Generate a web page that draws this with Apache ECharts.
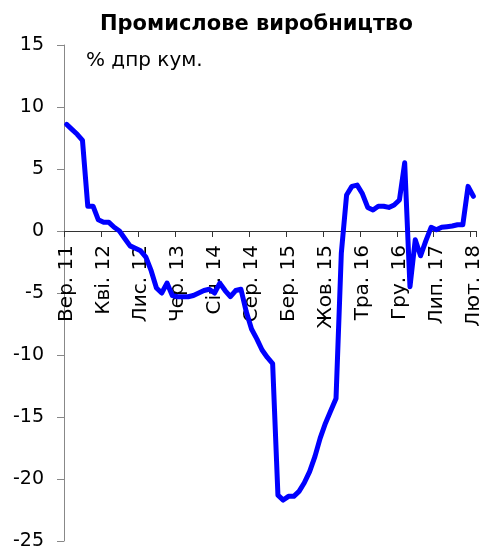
<!DOCTYPE html>
<html>
<head>
<meta charset="utf-8">
<script src="https://cdn.jsdelivr.net/npm/echarts@6/dist/echarts.min.js"></script>
<style>
html,body{margin:0;padding:0;background:#fff;}
#chart{width:497px;height:548px;}
</style>
</head>
<body>
<div id="chart"></div>
<script>
var titleText = "Промислове виробництво";
var unitText = "% дпр кум.";
var monthNames = ["Січ.","Лют.","Бер.","Кві.","Тра.","Чер.","Лип.","Сер.","Вер.","Жов.","Лис.","Гру."];
var startYear = 2011, startMonth = 8; // Sep 2011
var values = [
  8.6, 8.2, 7.8, 7.3, 2.0, 2.0, 0.9, 0.7, 0.7, 0.3,
  0.0, -0.6, -1.2, -1.4, -1.6, -2.1, -3.2, -4.6, -5.0, -4.2,
  -5.2, -5.3, -5.3, -5.3, -5.2, -5.0, -4.8, -4.7, -5.0, -4.2,
  -4.8, -5.3, -4.8, -4.7, -6.5, -7.9, -8.7, -9.6, -10.2, -10.7,
  -21.3, -21.7, -21.4, -21.4, -21.0, -20.3, -19.4, -18.2, -16.7, -15.5,
  -14.5, -13.5, -1.8, 2.9, 3.6, 3.7, 3.0, 1.9, 1.7, 2.0,
  2.0, 1.9, 2.1, 2.5, 5.5, -4.5, -0.7, -2.0, -0.8, 0.3,
  0.1, 0.3, 0.35, 0.4, 0.5, 0.5, 3.6, 2.8
];
var yTicks = [-25, -20, -15, -10, -5, 0, 5, 10, 15];

var categories = values.map(function(v, i){
  var m = startMonth + i;
  var y = startYear + Math.floor(m / 12);
  return monthNames[m % 12] + " " + String(y % 100).padStart(2, "0");
});

var gridTop = 45, gridBottom = 7, chartH = 548;
var yMin = yTicks[0], yMax = yTicks[yTicks.length-1];
var plotH = chartH - gridTop - gridBottom;
var zeroOffset = -Math.round(plotH * (0 - yMin) / (yMax - yMin));

var chart = echarts.init(document.getElementById('chart'), null, {renderer:'canvas'});
var FONT = "DejaVu Sans";
chart.setOption({
  animation: false,
  backgroundColor: '#fff',
  title: [{
    text: titleText,
    left: 95, top: 9,
    textStyle: {fontFamily: FONT, fontWeight: 'bold', fontSize: 21, color: '#000'}
  },{
    text: unitText,
    left: 81, top: 46,
    textStyle: {fontFamily: FONT, fontWeight: 'normal', fontSize: 20, color: '#000'}
  }],
  grid: {left: 64, right: 21, top: gridTop, bottom: gridBottom, containLabel: false, outerBoundsMode: 'none'},
  xAxis: {
    type: 'category',
    data: categories,
    boundaryGap: true,
    position: 'bottom',
    offset: zeroOffset,
    z: 0,
    axisLine: {onZero: false, lineStyle: {color: '#333', width: 1}},
    axisTick: {show: true, interval: 6, length: 6, alignWithLabel: false, lineStyle: {color: '#333'}},
    axisLabel: {interval: 6, rotate: 90, margin: 14, fontFamily: FONT, fontSize: 20, color: '#000'},
    splitLine: {show: false}
  },
  yAxis: {
    type: 'value',
    min: yMin, max: yMax, interval: 5,
    z: 0,
    axisLine: {show: true, lineStyle: {color: '#888', width: 1}},
    axisTick: {show: true, length: 7, lineStyle: {color: '#888'}},
    axisLabel: {margin: 20, fontFamily: FONT, fontSize: 19, color: '#000'},
    splitLine: {show: false}
  },
  series: [{
    type: 'line',
    z: 10,
    data: values,
    showSymbol: false,
    symbol: 'none',
    smooth: false,
    lineStyle: {color: '#0000FF', width: 5, join: 'round', cap: 'round'}
  }]
});
</script>
</body>
</html>
